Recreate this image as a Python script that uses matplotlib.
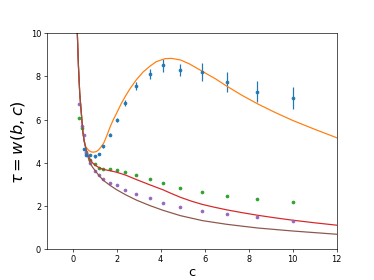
import matplotlib
matplotlib.use("Agg")
import matplotlib.pyplot as plt

# Simulation data (blue, with error bars)
blue_c = [0.5, 0.6, 0.8, 1.0, 1.2, 1.4, 1.7, 2.0, 2.4, 2.9, 3.5, 4.1, 4.9, 5.9, 7.0, 8.4, 10.0]
blue_tau = [4.62, 4.35, 4.34, 4.29, 4.41, 4.76, 5.29, 5.98, 6.77, 7.57, 8.13, 8.51, 8.31, 8.2, 7.75, 7.29, 7.01]
blue_err = [0.04, 0.04, 0.04, 0.05, 0.05, 0.06, 0.07, 0.08, 0.12, 0.19, 0.23, 0.31, 0.28, 0.41, 0.46, 0.49, 0.51]

green_c = [0.3, 0.4, 0.6, 0.8, 1.0, 1.2, 1.4, 1.7, 2.0, 2.4, 2.9, 3.5, 4.1, 4.9, 5.9, 7.0, 8.4, 10.0]
green_tau = [6.08, 5.59, 4.45, 4.15, 3.92, 3.75, 3.72, 3.71, 3.67, 3.57, 3.44, 3.27, 3.06, 2.85, 2.64, 2.47, 2.31, 2.2]

purple_c = [0.3, 0.4, 0.5, 0.6, 0.8, 1.0, 1.2, 1.4, 1.7, 2.0, 2.4, 2.9, 3.5, 4.1, 4.9, 5.9, 7.0, 8.4, 10.0]
purple_tau = [6.73, 5.70, 5.30, 4.5, 3.97, 3.61, 3.41, 3.26, 3.08, 2.95, 2.75, 2.55, 2.36, 2.14, 1.94, 1.76, 1.62, 1.49, 1.32]

# Theory curves
orange_c = [0.15, 0.21, 0.26, 0.32, 0.4, 0.46, 0.52, 0.6, 0.73, 0.85, 0.96, 1.08, 1.18, 1.3, 1.41, 1.55, 1.71, 1.85,
            2.0, 2.2, 2.39, 2.6, 2.9, 3.2, 3.5, 3.8, 4.2, 4.5, 4.9, 5.3, 5.9, 6.5, 7.0, 7.7, 8.4, 9.2, 10.0, 11.0,
            12.0, 13.0]
orange_tau = [13.5, 10.0, 8.5, 7.2, 6.2, 5.45, 5.05, 4.72, 4.57, 4.5, 4.49, 4.52, 4.6, 4.75, 4.91, 5.25, 5.68, 6.0,
              6.3, 6.72, 7.07, 7.42, 7.85, 8.2, 8.46, 8.68, 8.82, 8.83, 8.76, 8.58, 8.23, 7.88, 7.55, 7.12, 6.73,
              6.33, 5.96, 5.55, 5.16, 4.8]

red_c = [0.15, 0.21, 0.26, 0.32, 0.4, 0.46, 0.52, 0.61, 0.7, 0.8, 0.9, 1.0, 1.2, 1.4, 1.7, 2.0, 2.4, 2.9, 3.5, 4.1,
         4.5, 4.9, 5.4, 5.9, 6.4, 7.0, 7.7, 8.4, 9.2, 10.0, 11.0, 12.0, 13.0]
red_tau = [13.5, 10.0, 8.5, 7.2, 6.2, 5.45, 5.0, 4.62, 4.35, 4.14, 4.0, 3.9, 3.77, 3.69, 3.63, 3.56, 3.43, 3.22, 2.98,
           2.75, 2.57, 2.4, 2.22, 2.07, 1.95, 1.82, 1.69, 1.57, 1.45, 1.34, 1.22, 1.11, 1.02]

brown_c = [0.15, 0.21, 0.26, 0.32, 0.4, 0.46, 0.52, 0.61, 0.7, 0.79, 0.9, 1.0, 1.2, 1.4, 1.7, 2.0, 2.4, 2.9, 3.5, 4.1,
           4.9, 5.9, 7.0, 8.4, 10.0, 12.0, 13.0]
brown_tau = [13.5, 10.0, 8.5, 7.2, 6.2, 5.45, 5.0, 4.6, 4.25, 3.98, 3.8, 3.66, 3.4, 3.18, 2.95, 2.75, 2.52, 2.27, 2.02,
             1.8, 1.55, 1.32, 1.15, 0.98, 0.84, 0.69, 0.64]

fig = plt.figure(figsize=(6.4, 4.8), dpi=58.44)
ax = fig.add_subplot(111)

ax.errorbar(blue_c, blue_tau, yerr=blue_err, fmt='.', color='C0', markersize=7)
ax.plot(orange_c, orange_tau, color='C1')
ax.plot(green_c, green_tau, '.', color='C2', markersize=7)
ax.plot(red_c, red_tau, color='C3')
ax.plot(purple_c, purple_tau, '.', color='C4', markersize=7)
ax.plot(brown_c, brown_tau, color='C5')

ax.set_xlim(-1.18, 12)
ax.set_ylim(0, 10)
ax.set_xlabel('c', fontsize=16, labelpad=2)
ax.set_ylabel(r'$\tau = w(b,c)$', fontsize=20)

fig.savefig('out.png', dpi=58.44)
